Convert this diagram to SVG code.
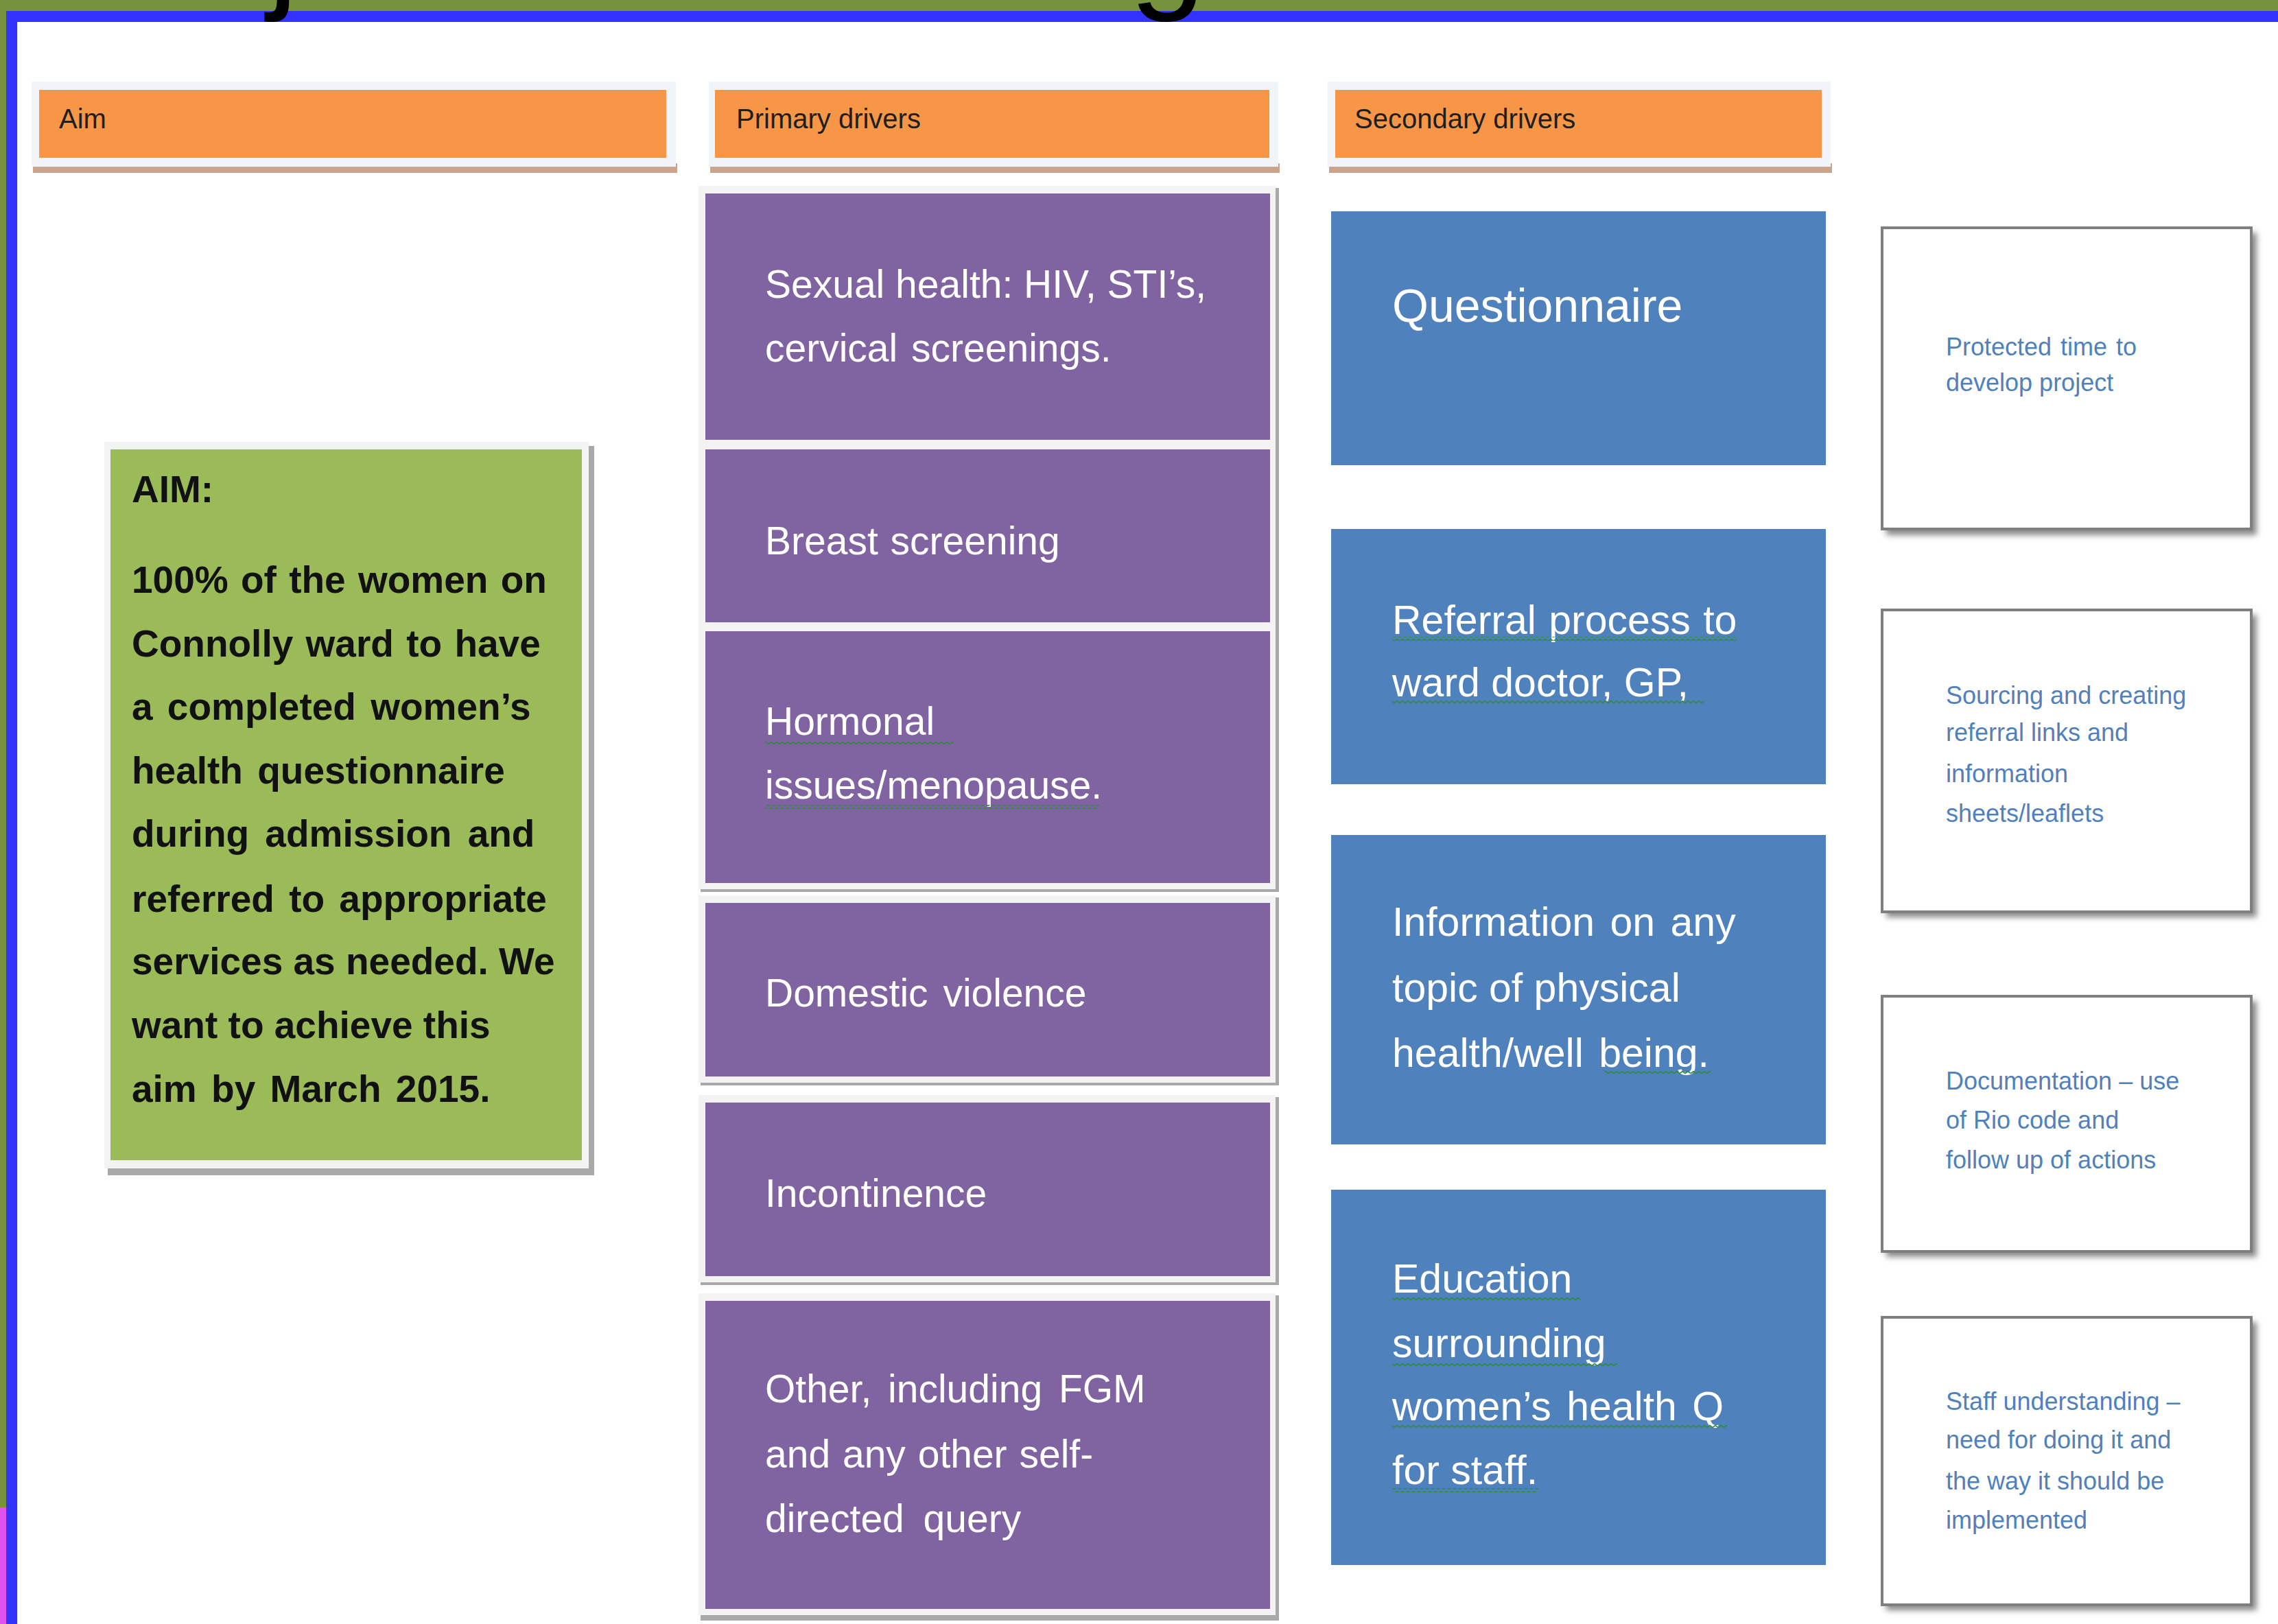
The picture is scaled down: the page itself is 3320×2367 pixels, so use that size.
<svg xmlns="http://www.w3.org/2000/svg" width="3320" height="2367" viewBox="0 0 3320 2367">
<style>
.hdrframe{fill:#f1f4f8}
.hdrshadow{fill:#c9a68b}
.hdr{fill:#f79646}
.hdrtxt{font-family:"Liberation Sans",Arial,sans-serif;font-size:40px;fill:#1e1e1e}
.pframe{fill:#f3f3f3}
.pshadow{fill:#a9a9a9}
.purple{fill:#8064a2}
.ptxt{font-family:"Liberation Sans",Arial,sans-serif;font-size:57px;fill:#ffffff}
.blue{fill:#4f81bd}
.btxt{font-family:"Liberation Sans",Arial,sans-serif;font-size:59px;fill:#ffffff}
.wbox{fill:#ffffff;stroke:#7f7f7f;stroke-width:4}
.wshadow{fill:#8a8a8a}
.wtxt{font-family:"Liberation Sans",Arial,sans-serif;font-size:36px;fill:#4f81bd}
.aimtxt{font-family:"Liberation Sans",Arial,sans-serif;font-size:55px;font-weight:bold;fill:#111111}
.wavy{fill:url(#squiggle)}
</style>
<defs>
<pattern id="squiggle" x="0" y="0" width="8" height="6" patternUnits="userSpaceOnUse">
<path d="M0,4.5 L4,1.5 L8,4.5" fill="none" stroke="#2e8b3a" stroke-width="1.6"/>
</pattern>
<filter id="blur" x="-10%" y="-10%" width="120%" height="120%">
<feGaussianBlur stdDeviation="4"/>
</filter>
</defs>
<rect x="0" y="0" width="3320" height="2367" fill="#ffffff"/>
<g id="page-border">
<rect x="0" y="0" width="3320" height="16" fill="#76923c"/>
<rect x="0" y="16" width="3320" height="16" fill="#3333ff"/>
<rect x="0" y="0" width="9" height="2197" fill="#76923c"/>
<rect x="0" y="2197" width="9" height="170" fill="#e052ee"/>
<rect x="9" y="16" width="16" height="2351" fill="#3333ff"/>
</g>
<g id="title">
<text x="79" y="-10" font-family="Liberation Sans, Arial, sans-serif" font-size="200" fill="#000000">Project Driver Diagram</text>
</g>
<g id="connectors"></g>

<g id="header-aim">
<rect class="hdrshadow" x="48" y="238" width="939" height="14"/>
<rect class="hdrframe" x="46" y="119" width="939" height="124"/>
<rect class="hdr" x="57" y="131" width="914" height="99"/>
<text class="hdrtxt" x="86" y="187">Aim</text>
</g>
<g id="header-primary">
<rect class="hdrshadow" x="1035" y="238" width="830" height="14"/>
<rect class="hdrframe" x="1033" y="119" width="830" height="124"/>
<rect class="hdr" x="1042" y="131" width="808" height="99"/>
<text class="hdrtxt" x="1073" y="187">Primary drivers</text>
</g>
<g id="header-secondary">
<rect class="hdrshadow" x="1937" y="238" width="733" height="14"/>
<rect class="hdrframe" x="1935" y="119" width="733" height="124"/>
<rect class="hdr" x="1946" y="131" width="709" height="99"/>
<text class="hdrtxt" x="1974" y="187">Secondary drivers</text>
</g>

<g id="aim-box">
<rect class="pshadow" x="157" y="650" width="709" height="1063"/>
<rect class="pframe" x="152" y="644" width="706" height="1059"/>
<rect x="161" y="655" width="687" height="1036" fill="#9bbb59"/>
<text class="aimtxt" x="192" y="732">AIM:</text>
<text class="aimtxt" x="192" y="864" word-spacing="3">100% of the women on</text>
<text class="aimtxt" x="192" y="957" word-spacing="3">Connolly ward to have</text>
<text class="aimtxt" x="192" y="1049" word-spacing="6">a completed women’s</text>
<text class="aimtxt" x="192" y="1142" word-spacing="6">health questionnaire</text>
<text class="aimtxt" x="192" y="1234" word-spacing="8">during admission and</text>
<text class="aimtxt" x="192" y="1329" word-spacing="6">referred to appropriate</text>
<text class="aimtxt" x="192" y="1420">services as needed. We</text>
<text class="aimtxt" x="192" y="1513">want to achieve this</text>
<text class="aimtxt" x="192" y="1606" word-spacing="6">aim by March 2015.</text>
</g>

<g id="primary-1">
<rect class="pshadow" x="1021" y="274" width="843" height="380"/>
<rect class="pframe" x="1018" y="271" width="841" height="379"/>
<rect class="purple" x="1028" y="282" width="823" height="359"/>
<text class="ptxt" x="1115" y="434">Sexual health: HIV, STI’s,</text>
<text class="ptxt" x="1115" y="527" word-spacing="4">cervical screenings.</text>
</g>
<g id="primary-2">
<rect class="pshadow" x="1021" y="647" width="843" height="273"/>
<rect class="pframe" x="1018" y="644" width="841" height="272"/>
<rect class="purple" x="1028" y="655" width="823" height="252"/>
<text class="ptxt" x="1115" y="808" word-spacing="2">Breast screening</text>
</g>
<g id="primary-3">
<rect class="pshadow" x="1021" y="912" width="843" height="388"/>
<rect class="pframe" x="1018" y="909" width="841" height="387"/>
<rect class="purple" x="1028" y="920" width="823" height="367"/>
<text class="ptxt" x="1115" y="1071">Hormonal</text>
<text class="ptxt" x="1115" y="1164">issues/menopause.</text>
<rect class="wavy" x="1115" y="1079" width="275" height="6"/>
<rect class="wavy" x="1115" y="1173" width="487" height="6"/>
</g>
<g id="primary-4">
<rect class="pshadow" x="1021" y="1308" width="843" height="274"/>
<rect class="pframe" x="1018" y="1305" width="841" height="273"/>
<rect class="purple" x="1028" y="1316" width="823" height="253"/>
<text class="ptxt" x="1115" y="1467" word-spacing="6">Domestic violence</text>
</g>
<g id="primary-5">
<rect class="pshadow" x="1021" y="1599" width="843" height="274"/>
<rect class="pframe" x="1018" y="1596" width="841" height="273"/>
<rect class="purple" x="1028" y="1607" width="823" height="253"/>
<text class="ptxt" x="1115" y="1759">Incontinence</text>
</g>
<g id="primary-6">
<rect class="pshadow" x="1021" y="1888" width="843" height="474"/>
<rect class="pframe" x="1018" y="1885" width="841" height="469"/>
<rect class="purple" x="1028" y="1896" width="823" height="449"/>
<text class="ptxt" x="1115" y="2044" word-spacing="8">Other, including FGM</text>
<text class="ptxt" x="1115" y="2139" word-spacing="2">and any other self-</text>
<text class="ptxt" x="1115" y="2233" word-spacing="12">directed query</text>
</g>

<g id="secondary-1">
<rect class="blue" x="1940" y="308" width="721" height="370"/>
<text class="btxt" x="2029" y="469" style="font-size:68px">Questionnaire</text>
</g>
<g id="secondary-2">
<rect class="blue" x="1940" y="771" width="721" height="372"/>
<text class="btxt" x="2029" y="924" word-spacing="2">Referral process to</text>
<text class="btxt" x="2029" y="1015">ward doctor, GP,</text>
<rect class="wavy" x="2029" y="928" width="502" height="6"/>
<rect class="wavy" x="2029" y="1021" width="454" height="6"/>
</g>
<g id="secondary-3">
<rect class="blue" x="1940" y="1217" width="721" height="451"/>
<text class="btxt" x="2029" y="1364" word-spacing="6">Information on any</text>
<text class="btxt" x="2029" y="1460">topic of physical</text>
<text class="btxt" x="2029" y="1555" word-spacing="6">health/well being.</text>
<rect class="wavy" x="2339" y="1559" width="154" height="6"/>
</g>
<g id="secondary-4">
<rect class="blue" x="1940" y="1734" width="721" height="547"/>
<text class="btxt" x="2029" y="1884">Education</text>
<text class="btxt" x="2029" y="1978">surrounding</text>
<text class="btxt" x="2029" y="2070" word-spacing="6">women’s health Q</text>
<text class="btxt" x="2029" y="2163">for staff.</text>
<rect class="wavy" x="2029" y="1889" width="274" height="6"/>
<rect class="wavy" x="2029" y="1985" width="328" height="6"/>
<rect class="wavy" x="2029" y="2076" width="488" height="6"/>
<rect class="wavy" x="2029" y="2169" width="213" height="6"/>
</g>

<g id="change-1">
<rect class="wshadow" x="2749" y="339" width="540" height="441" filter="url(#blur)"/>
<rect class="wbox" x="2743" y="332" width="538" height="439"/>
<text class="wtxt" x="2836" y="518" word-spacing="3">Protected time to</text>
<text class="wtxt" x="2836" y="570">develop project</text>
</g>
<g id="change-2">
<rect class="wshadow" x="2749" y="896" width="540" height="441" filter="url(#blur)"/>
<rect class="wbox" x="2743" y="889" width="538" height="440"/>
<text class="wtxt" x="2836" y="1026">Sourcing and creating</text>
<text class="wtxt" x="2836" y="1080">referral links and</text>
<text class="wtxt" x="2836" y="1140">information</text>
<text class="wtxt" x="2836" y="1198">sheets/leaflets</text>
</g>
<g id="change-3">
<rect class="wshadow" x="2749" y="1459" width="540" height="373" filter="url(#blur)"/>
<rect class="wbox" x="2743" y="1452" width="538" height="372"/>
<text class="wtxt" x="2836" y="1588">Documentation – use</text>
<text class="wtxt" x="2836" y="1645">of Rio code and</text>
<text class="wtxt" x="2836" y="1703">follow up of actions</text>
</g>
<g id="change-4">
<rect class="wshadow" x="2749" y="1927" width="540" height="420" filter="url(#blur)"/>
<rect class="wbox" x="2743" y="1920" width="538" height="419"/>
<text class="wtxt" x="2836" y="2055">Staff understanding –</text>
<text class="wtxt" x="2836" y="2111">need for doing it and</text>
<text class="wtxt" x="2836" y="2171">the way it should be</text>
<text class="wtxt" x="2836" y="2228">implemented</text>
</g>
</svg>
